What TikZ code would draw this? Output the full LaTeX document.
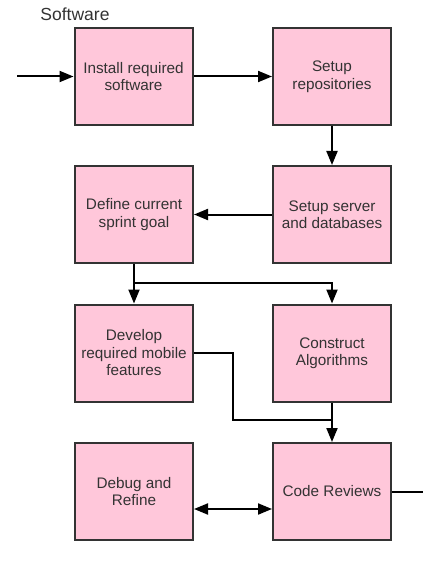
\documentclass[tikz,border=0pt]{standalone}
\usepackage{fontspec}
\setmainfont{Liberation Sans}
\usetikzlibrary{arrows.meta}
\definecolor{boxfill}{HTML}{FFC7DA}
\definecolor{boxline}{HTML}{333333}
\definecolor{txt}{HTML}{333333}
\tikzset{
  stepbox/.style={draw=boxline, line width=2pt, fill=boxfill,
    minimum width=118pt, minimum height=97pt, inner sep=0pt,
    align=center, text=txt, font=\fontsize{15.3}{17.5}\selectfont},
  link/.style={draw=black, line width=2pt},
  arr/.style={link, -{Triangle[length=14pt,width=11pt]}},
  biarr/.style={link, {Triangle[length=14pt,width=11pt]}-{Triangle[length=14pt,width=11pt]}}
}
\begin{document}
\begin{tikzpicture}[x=1pt,y=-1pt]
  \useasboundingbox (0,0) rectangle (423,564);

  % title
  \node[anchor=base, text=txt, font=\fontsize{17.5}{20}\selectfont] (title) at (75,21) {Software};

  % process boxes
  \node[stepbox] (install) at (133.5,76.5) {Install required\\software};
  \node[stepbox] (repos)   at (332,76.5)   {Setup\\repositories};
  \node[stepbox] (server)  at (332,214.5)  {Setup server\\and databases};
  \node[stepbox] (goal)    at (134,214.5)  {Define current\\sprint goal};
  \node[stepbox] (mobile)  at (134,353)    {Develop\\required mobile\\features};
  \node[stepbox] (algo)    at (332,353)    {Construct\\Algorithms};
  \node[stepbox] (debug)   at (134,491.5)  {Debug and\\Refine};
  \node[stepbox] (review)  at (332,491.5)  {Code Reviews};

  % free ends and bends
  \coordinate (entry) at (17,76.5);
  \coordinate (exit)  at (423,491.5);
  \coordinate (split) at (134,283);
  \coordinate (bend)  at (233,353);
  \coordinate (merge) at (332,420);

  % connectors
  \draw[arr] (entry) -- (install.west);
  \draw[arr] (install.east) -- (repos.west);
  \draw[arr] (repos.south) -- (server.north);
  \draw[arr] (server.west) -- (goal.east);
  \draw[arr] (goal.south) -- (mobile.north);
  \draw[arr] (split) -| (algo.north);
  \draw[link] (mobile.east) -- (bend) |- (merge);
  \draw[arr] (algo.south) -- (review.north);
  \draw[link] (review.east) -- (exit);
  \draw[biarr] ([yshift=-17.5pt]debug.east) -- ([yshift=-17.5pt]review.west);
\end{tikzpicture}
\end{document}
